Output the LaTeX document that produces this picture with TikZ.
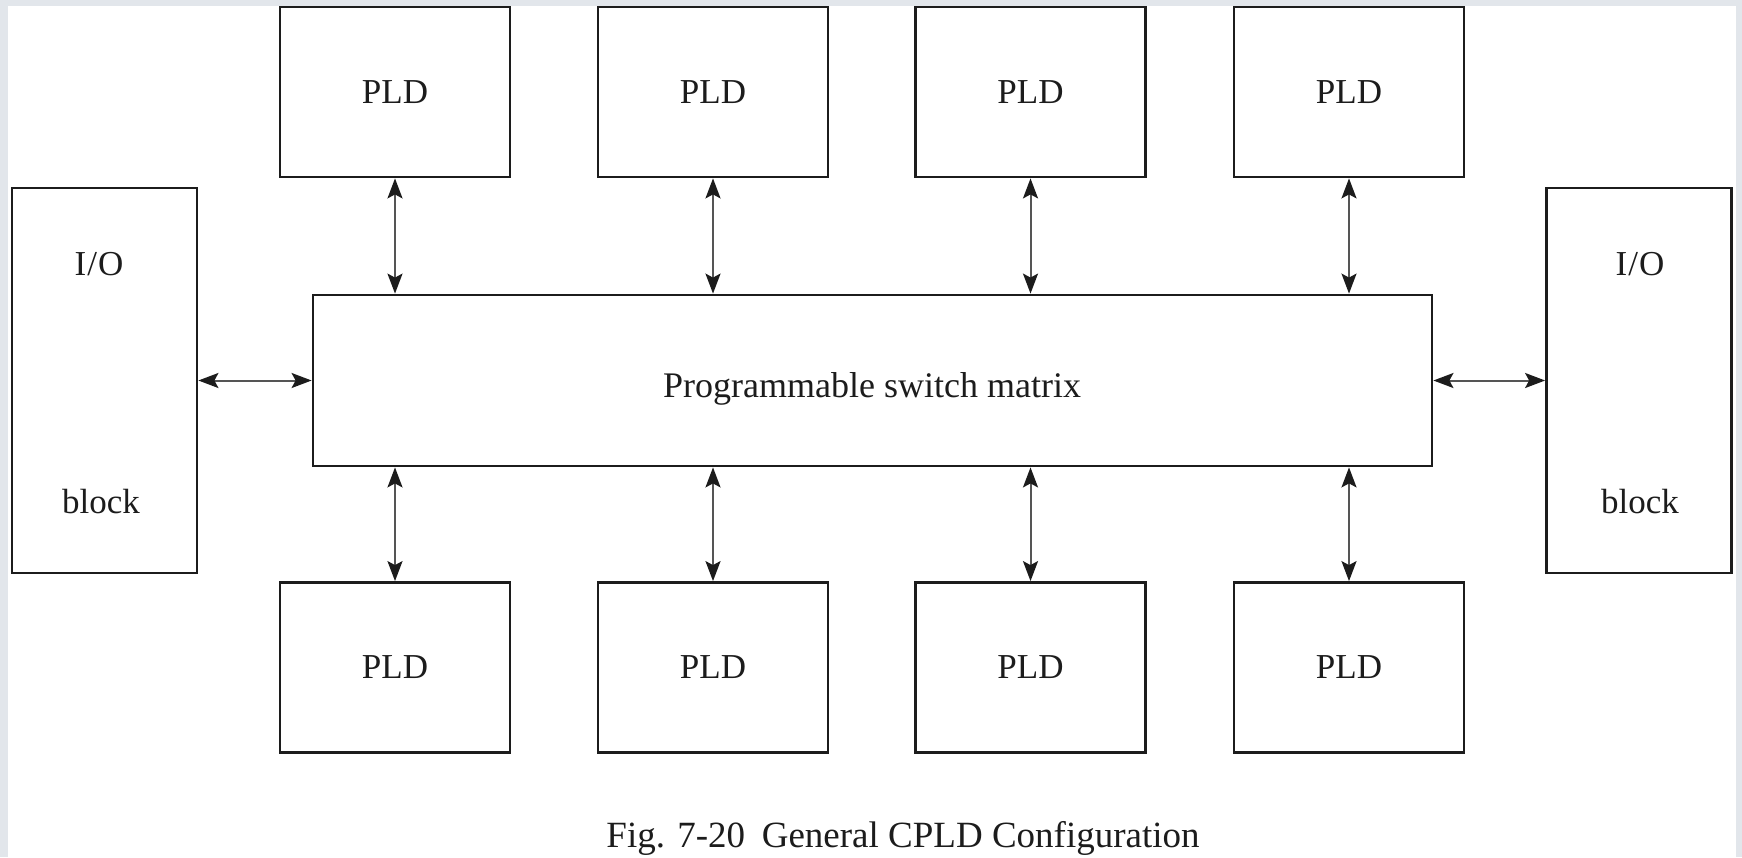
\documentclass[tikz,border=0pt]{standalone}
\usepackage{fontspec}
\setmainfont{Liberation Serif}
\usetikzlibrary{arrows.meta}
\definecolor{framegray}{HTML}{E2E6EB}
\definecolor{ink}{HTML}{1C1C1C}
\definecolor{wire}{HTML}{555555}

\begin{document}
\begin{tikzpicture}[x=1pt,y=-1pt,
  blk/.style={draw=ink, line width=2.8pt, inner sep=0pt, fill=white,
    font=\fontsize{35}{40}\selectfont, text=ink},
  pld/.style={blk, minimum width=230pt, minimum height=170pt},
  iob/.style={blk, minimum width=185pt, minimum height=385pt},
  lbl/.style={font=\fontsize{35}{40}\selectfont, text=ink, inner sep=0pt, anchor=base},
  link/.style={draw=wire, line width=2pt,
    {Stealth[length=20pt,width=15pt,inset=4pt,color=ink]}-{Stealth[length=20pt,width=15pt,inset=4pt,color=ink]}}
]
% page background with a light frame on the top and sides
\fill[framegray] (0,0) rectangle (1742,857);
\fill[white] (8,6) rectangle (1736,857);
\useasboundingbox (0,0) rectangle (1742,857);

% central switch matrix
\node[blk, minimum width=1119pt, minimum height=171pt] (sw) at (872.5,380.5) {};
\node[lbl, font=\fontsize{36}{40}\selectfont] (swt) at (872,397) {Programmable switch matrix};

% PLD blocks above and below
\node[pld] (t1) at (395,92) {PLD};
\node[pld] (t2) at (713,92) {PLD};
\node[pld] (t3) at (1030.5,92) {PLD};
\node[pld] (t4) at (1349,92) {PLD};
\node[pld] (b1) at (395,667.5) {PLD};
\node[pld] (b2) at (713,667.5) {PLD};
\node[pld] (b3) at (1030.5,667.5) {PLD};
\node[pld] (b4) at (1349,667.5) {PLD};

% I/O blocks on both sides
\node[iob] (iol) at (104.5,380.5) {};
\node[lbl] (iolt) at (99,275) {I\kern1pt/\kern1pt O};
\node[lbl] (iolb) at (101,513) {block};
\node[iob] (ior) at (1639,380.5) {};
\node[lbl] (iort) at (1640,275) {I\kern1pt/\kern1pt O};
\node[lbl] (iorb) at (1640,513) {block};

% bidirectional links
\foreach \p in {t1,t2,t3,t4}{
  \draw[link] (\p.south) -- (\p.south |- sw.north);
}
\foreach \p in {b1,b2,b3,b4}{
  \draw[link] (\p.north) -- (\p.north |- sw.south);
}
\draw[link] (iol) -- (sw);
\draw[link] (ior) -- (sw);

% caption
\node[font=\fontsize{37}{44}\selectfont, text=ink, inner sep=0pt, anchor=base] (cap)
  at (903,847) {Fig. 7-20\hspace{0.45em}General CPLD Configuration};
\end{tikzpicture}
\end{document}
